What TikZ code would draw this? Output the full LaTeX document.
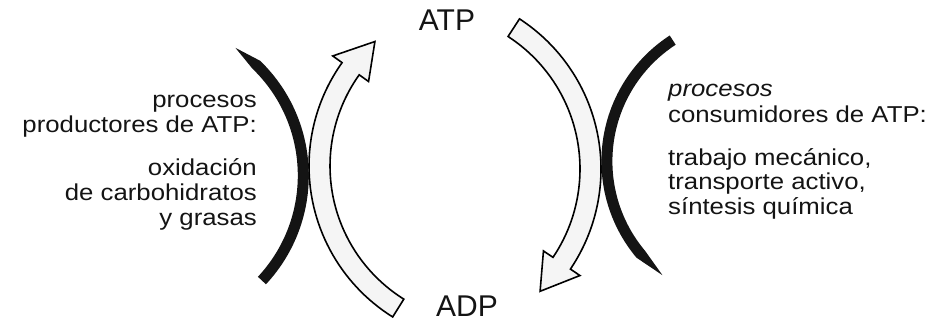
\documentclass[tikz,border=0pt]{standalone}
\usepackage{fontspec}
\setmainfont{Liberation Sans}
\newfontfamily\bodyfont[FakeStretch=1.12]{Liberation Sans}
\tikzset{
  hollow/.style={draw=black,line width=1.6pt,fill=black!4,line join=miter},
  brush/.style={fill=black!92,draw=none},
  lefttxt/.style={anchor=base east,inner sep=0pt,font=\bodyfont\fontsize{23}{26}\selectfont,text=black!92},
  righttxt/.style={anchor=base west,inner sep=0pt,font=\bodyfont\fontsize{23}{26}\selectfont,text=black!92},
  big/.style={anchor=base,inner sep=0pt,font=\fontsize{30}{34}\selectfont,text=black!92}
}
\begin{document}
\begin{tikzpicture}[x=1pt,y=-1pt]
\useasboundingbox (0,0) rectangle (928,326);
% centres of the four arcs
\coordinate (lc) at (487,166);
\coordinate (rc) at (422,169);
\coordinate (lb) at (149.3,175.5);
\coordinate (rb) at (751.4,161.3);
% hollow arrows
\begin{scope}[shift={(lc)}]
\draw[hollow] (122:178) arc[start angle=122,end angle=215.5,radius=178] -- (215.5:189.5) -- (228:167.5)
  -- (215.5:145.5) -- (215.5:157) arc[start angle=215.5,end angle=122,radius=157] -- cycle;
\end{scope}
\begin{scope}[shift={(rc)}]
\draw[hollow] (-57:179) arc[start angle=-57,end angle=34,radius=179] -- (34:190.5) -- (46:170)
  -- (34:146.5) -- (34:158) arc[start angle=34,end angle=-57,radius=158] -- cycle;
\end{scope}
% black arcs
\begin{scope}[shift={(lb)}]
\fill[brush] (-56:154) -- (-46:159.5) arc[start angle=-46,end angle=43,radius=159.5] -- (43:148.5)
  arc[start angle=43,end angle=-46,radius=148.5] -- cycle;
\end{scope}
\begin{scope}[shift={(rb)}]
\fill[brush] (237:150) arc[start angle=237,end angle=140,radius=150] -- (128:144.5) -- (140:139)
  arc[start angle=140,end angle=237,radius=139] -- cycle;
\end{scope}
% labels
\node[big] (atp) at (447,31) {ATP};
\node[big] (adp) at (467,316) {ADP};
\foreach \t/\y in {procesos/107,productores de ATP:/132,oxidación/175,de carbohidratos/200,y grasas/225}
  \node[lefttxt] (l\y) at (257,\y) {\t};
\node[righttxt] (r97) at (668,97) {\itshape procesos};
\foreach \t/\y in {consumidores de ATP:/122,{trabajo mecánico,}/165,{transporte activo,}/189,síntesis química/214}
  \node[righttxt] (r\y) at (668,\y) {\t};
\end{tikzpicture}
\end{document}
